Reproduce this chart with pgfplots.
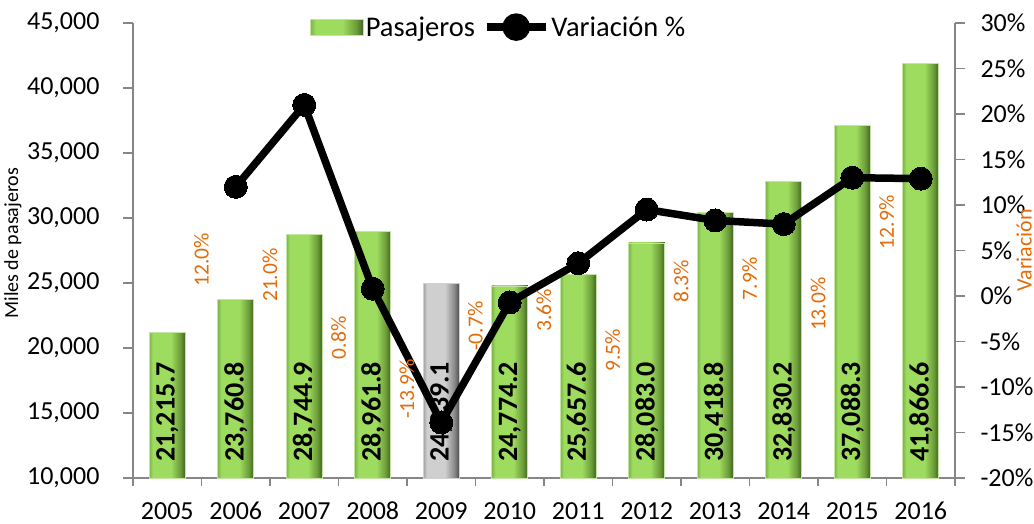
\documentclass[border=0pt]{standalone}
\usepackage{pgfplots}
\pgfplotsset{compat=1.18}
\usepackage{fontspec}
\setmainfont{Carlito}
\definecolor{axgray}{HTML}{868686}
\definecolor{orng}{HTML}{E36C09}
\definecolor{barline}{HTML}{C6E3A6}
\definecolor{g0}{HTML}{7DB648}
\definecolor{g1}{HTML}{9EDC5F}
\definecolor{g2}{HTML}{6C9D39}
\definecolor{g3}{HTML}{3F6222}
\definecolor{k0}{HTML}{A0A0A0}
\definecolor{k1}{HTML}{CFCFCF}
\definecolor{k2}{HTML}{8A8A8A}
\definecolor{k3}{HTML}{4D4D4D}
\pgfdeclarehorizontalshading{greenbar}{100bp}{color(0bp)=(g0); color(25bp)=(g0); color(30bp)=(g1); color(55bp)=(g1); color(68bp)=(g2); color(75bp)=(g3); color(100bp)=(g3)}
\pgfdeclarehorizontalshading{greybar}{100bp}{color(0bp)=(k0); color(25bp)=(k0); color(30bp)=(k1); color(55bp)=(k1); color(68bp)=(k2); color(75bp)=(k3); color(100bp)=(k3)}
\pgfplotsset{
  gbar/.style={ybar, bar width=36pt, bar shift=0pt, shading=greenbar, draw=barline, line width=0.8pt},
  kbar/.style={ybar, bar width=36pt, bar shift=0pt, shading=greybar, draw=k1, line width=0.8pt},
}
\begin{document}
\begin{tikzpicture}
\useasboundingbox (0,0) rectangle (1034pt,524pt);
\begin{axis}[
  at={(133pt,46pt)}, anchor=south west,
  width=822pt, height=455pt, scale only axis,
  xmin=-0.5, xmax=11.5, ymin=10000, ymax=45000,
  ytick={10000,15000,...,45000},
  scaled y ticks=false,
  xtick={0,...,11},
  xticklabels={2005,2006,2007,2008,2009,2010,2011,2012,2013,2014,2015,2016},
  minor xtick={-0.5,0.5,...,11.5},
  axis x line*=bottom, axis y line*=left,
  axis line style={axgray, line width=1.3pt},
  tick align=outside,
  major tick length=10pt, minor tick length=8pt,
  tick style={axgray, line width=1.3pt},
  major x tick style={draw=none},
  tick label style={font=\fontsize{26}{28}\selectfont},
  xticklabel style={yshift=-14.5pt, inner sep=0pt, text height=17pt, text depth=0pt},
  yticklabel style={xshift=-20pt},
  /pgf/number format/1000 sep={,},
  /pgf/number format/assume math mode=true,
  ylabel={Miles de pasajeros},
  every axis y label/.style={at={(rel axis cs:-0.146,0.516)}, rotate=90, anchor=center, font=\fontsize{20}{22}\selectfont},
  clip=false,
]
\addplot[gbar] coordinates {(0,21215.7)};
\addplot[gbar] coordinates {(1,23760.8)};
\addplot[gbar] coordinates {(2,28744.9)};
\addplot[gbar] coordinates {(3,28961.8)};
\addplot[kbar] coordinates {(4,24939.1)};
\addplot[gbar] coordinates {(5,24774.2)};
\addplot[gbar] coordinates {(6,25657.6)};
\addplot[gbar] coordinates {(7,28083.0)};
\addplot[gbar] coordinates {(8,30418.8)};
\addplot[gbar] coordinates {(9,32830.2)};
\addplot[gbar] coordinates {(10,37088.3)};
\addplot[gbar] coordinates {(11,41866.6)};
\addplot[draw=none, nodes near coords, point meta=explicit symbolic,
  every node near coord/.append style={rotate=90, anchor=west, inner sep=0pt, text=black, font=\bfseries\fontsize{28}{30}\selectfont}]
  coordinates {(0,11231)[21,215.7] (1,11231)[23,760.8] (2,11231)[28,744.9] (3,11231)[28,961.8] (4,11231)[24,939.1] (5,11231)[24,774.2] (6,11231)[25,657.6] (7,11231)[28,083.0] (8,11231)[30,418.8] (9,11231)[32,830.2] (10,11231)[37,088.3] (11,11231)[41,866.6]};
\end{axis}
\begin{axis}[
  at={(133pt,46pt)}, anchor=south west,
  width=822pt, height=455pt, scale only axis,
  xmin=-0.5, xmax=11.5, ymin=-20, ymax=30,
  ytick={-20,-15,...,30},
  axis x line=none, axis y line*=right,
  axis line style={axgray, line width=1.3pt},
  tick align=outside, major tick length=10pt,
  tick style={axgray, line width=1.3pt},
  tick label style={font=\fontsize{26}{28}\selectfont},
  yticklabel style={xshift=12pt},
  /pgf/number format/assume math mode=true,
  yticklabel={\pgfmathprintnumber{\tick}\%},
  ylabel={Variación},
  every axis y label/.style={at={(rel axis cs:1.084,0.50)}, rotate=90, anchor=center, text=orng, font=\fontsize{22}{24}\selectfont},
  clip=false,
  legend columns=2,
  legend style={draw=none, fill=none, at={(0.445,0.991)}, anchor=center,
    font=\fontsize{28.5}{30}\selectfont, inner sep=0pt,
    /tikz/every even column/.append style={column sep=6pt}},
]
\addlegendimage{legend image code/.code={\draw[shading=greenbar, draw=barline] (0pt,-8pt) rectangle (53pt,8pt);}}
\addlegendentry{Pasajeros}
\addplot[draw=none, forget plot, nodes near coords, point meta=explicit symbolic,
  every node near coord/.append style={rotate=90, anchor=center, text=orng, font=\fontsize{21.5}{23}\selectfont}]
  coordinates {(0.5,3.96)[12.0\%] (1.5,2.3)[21.0\%] (2.5,-4.6)[0.8\%] (3.5,-10.2)[-13.9\%] (4.5,-3.3)[-0.7\%] (5.5,-1.6)[3.6\%] (6.5,-6.0)[9.5\%] (7.5,1.6)[8.3\%] (8.5,1.9)[7.9\%] (9.5,-0.9)[13.0\%] (10.5,8.1)[12.9\%]};
\addplot[black, line width=7.5pt, mark=*, mark size=11.5pt, mark options={fill=black, line width=0pt},
  legend image code/.code={\draw[black, line width=7.5pt] (0pt,0pt) -- (59pt,0pt); \fill[black] (29.5pt,0pt) circle (10pt);}]
  coordinates {(1,12.0) (2,21.0) (3,0.8) (4,-13.9) (5,-0.7) (6,3.6) (7,9.5) (8,8.3) (9,7.9) (10,13.0) (11,12.9)};
\addlegendentry{Variación \%}
\end{axis}
\end{tikzpicture}
\end{document}
